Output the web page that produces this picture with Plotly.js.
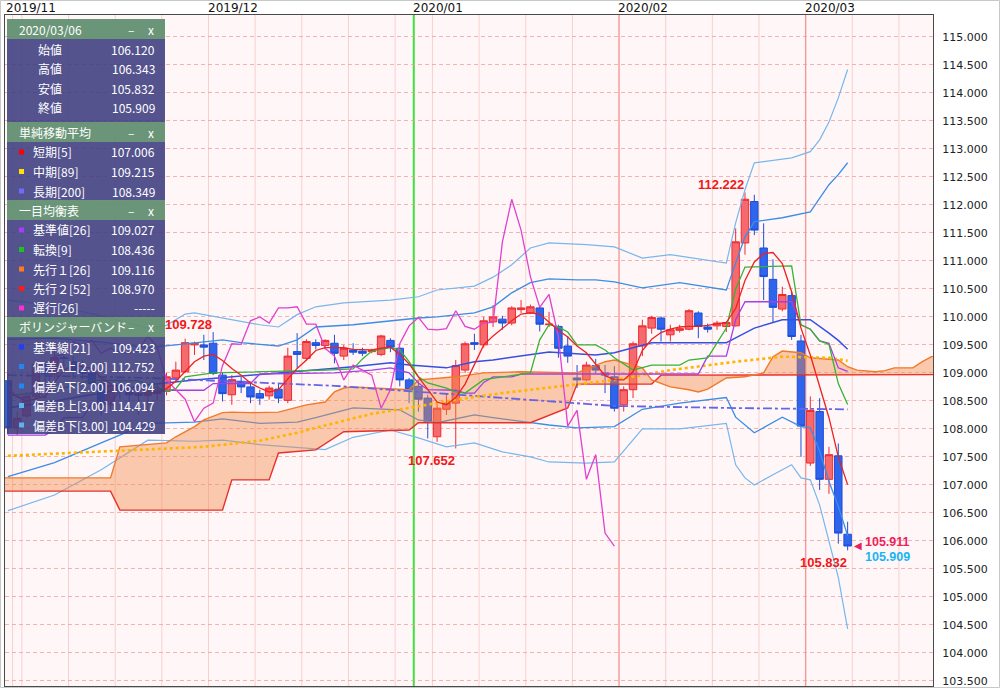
<!DOCTYPE html>
<html><head><meta charset="utf-8">
<script src="https://cdn.plot.ly/plotly-3.0.1.min.js"></script>
<style>html,body{margin:0;padding:0;background:#fff;}#chart{width:1000px;height:688px;}</style>
</head><body><div id="chart"></div>
<script>
// ---------------- data ----------------
const dates = ["2019/10/31","2019/11/01","2019/11/04","2019/11/05","2019/11/06","2019/11/07","2019/11/08","2019/11/11","2019/11/12","2019/11/13","2019/11/14","2019/11/15","2019/11/18","2019/11/19","2019/11/20","2019/11/21","2019/11/22","2019/11/25","2019/11/26","2019/11/27","2019/11/28","2019/11/29",
"2019/12/02","2019/12/03","2019/12/04","2019/12/05","2019/12/06","2019/12/09","2019/12/10","2019/12/11","2019/12/12","2019/12/13","2019/12/16","2019/12/17","2019/12/18","2019/12/19","2019/12/20","2019/12/23","2019/12/24","2019/12/25","2019/12/26","2019/12/27","2019/12/30","2019/12/31",
"2020/01/02","2020/01/03","2020/01/06","2020/01/07","2020/01/08","2020/01/09","2020/01/10","2020/01/13","2020/01/14","2020/01/15","2020/01/16","2020/01/17","2020/01/20","2020/01/21","2020/01/22","2020/01/23","2020/01/24","2020/01/27","2020/01/28","2020/01/29","2020/01/30","2020/01/31",
"2020/02/03","2020/02/04","2020/02/05","2020/02/06","2020/02/07","2020/02/10","2020/02/11","2020/02/12","2020/02/13","2020/02/14","2020/02/17","2020/02/18","2020/02/19","2020/02/20","2020/02/21","2020/02/24","2020/02/25","2020/02/26","2020/02/27","2020/02/28",
"2020/03/02","2020/03/03","2020/03/04","2020/03/05","2020/03/06"];
const openP = [108.86,108.02,108.23,108.58,109.15,108.98,109.27,109.20,109.05,108.99,108.81,108.43,108.78,108.67,108.61,108.60,108.63,108.67,108.91,109.02,109.50,109.50,
109.53,108.96,108.61,108.85,108.75,108.63,108.59,108.71,108.51,109.38,109.26,109.54,109.49,109.53,109.30,109.41,109.39,109.38,109.33,109.58,109.44,108.875,
108.76,108.55,107.86,108.35,108.46,109.05,109.54,109.50,109.91,109.96,109.89,110.13,110.07,110.16,109.86,109.83,109.48,108.91,108.875,109.13,109.00,108.93,
108.43,108.70,109.48,109.80,109.98,109.68,109.76,109.78,110.07,109.82,109.84,109.83,109.84,111.32,112.06,111.23,110.67,110.14,110.38,109.57,
107.39,108.31,107.10,107.52,106.120];
const highP = [109.00,108.31,108.65,109.24,109.20,109.49,109.48,109.30,109.22,109.06,108.87,108.83,108.86,108.79,108.70,108.74,108.80,109.00,109.20,109.61,109.56,109.68,
109.728,109.00,108.96,108.93,108.82,108.70,108.77,108.80,109.45,109.71,109.60,109.60,109.60,109.68,109.50,109.53,109.45,109.43,109.68,109.62,109.47,108.91,
108.85,108.61,108.46,108.61,109.23,109.56,109.70,110.00,110.21,110.02,110.19,110.30,110.22,110.18,110.09,109.86,109.66,109.14,109.20,109.25,109.14,109.12,
108.76,109.56,109.95,110.02,110.01,109.86,109.86,110.14,110.10,109.88,109.93,109.92,111.58,112.222,112.18,111.67,111.03,110.54,110.45,109.68,
108.58,108.55,107.68,107.74,106.343];
const lowP = [107.90,107.89,108.20,108.50,108.79,108.90,109.06,108.90,108.89,108.65,108.24,108.35,108.53,108.45,108.25,108.30,108.50,108.60,108.84,109.00,109.32,109.23,
108.96,108.49,108.43,108.64,108.46,108.43,108.52,108.46,108.46,109.09,109.22,109.42,109.42,109.17,109.23,109.32,109.30,109.35,109.30,109.37,108.76,108.46,
108.31,107.83,107.77,108.25,107.652,109.00,109.41,109.45,109.82,109.77,109.85,110.07,110.05,109.74,109.82,109.27,109.18,108.73,108.85,109.00,108.64,108.31,
108.31,108.55,109.30,109.70,109.56,109.56,109.72,109.76,109.62,109.72,109.77,109.73,109.83,111.11,111.46,110.30,109.89,110.10,109.59,107.50,
107.34,106.91,106.84,105.95,105.832];
const closeP = [108.02,108.19,108.58,109.15,108.98,109.27,109.26,109.05,108.99,108.81,108.43,108.78,108.67,108.61,108.60,108.63,108.67,108.93,109.05,109.54,109.53,109.46,
108.99,108.63,108.88,108.75,108.57,108.55,108.73,108.55,109.30,109.33,109.56,109.49,109.58,109.35,109.44,109.37,109.35,109.40,109.66,109.46,108.875,108.70,
108.53,108.13,108.37,108.46,109.13,109.52,109.51,109.93,110.00,109.89,110.16,110.16,110.18,109.87,109.87,109.44,109.30,108.875,109.14,109.05,108.96,108.37,
108.70,109.52,109.84,109.99,109.78,109.77,109.79,110.11,109.83,109.78,109.89,109.90,111.34,112.10,111.55,110.72,110.17,110.40,109.65,108.05,
108.33,107.10,107.54,106.14,105.909];

// bar index of the first date (bars counted from 2019/11/01 = 0)
const firstIndex = -1;

// SMA 5 (per bar)
const sma5 = [108.66,108.57,108.49,108.54,108.58,108.83,109.05,109.14,109.11,109.08,108.91,108.81,108.74,108.66,108.62,108.66,108.64,108.72,108.85,109.02,109.20,109.30,
109.33,109.22,109.08,108.96,108.82,108.73,108.66,108.70,108.90,109.08,109.23,109.40,109.45,109.45,109.45,109.42,109.41,109.41,109.44,109.46,109.33,109.16,
108.93,108.70,108.48,108.43,108.56,108.80,109.15,109.50,109.66,109.80,109.93,110.05,110.07,110.05,109.90,109.76,109.64,109.48,109.36,109.16,108.95,108.88,
108.875,109.02,109.40,109.60,109.72,109.78,109.82,109.83,109.83,109.85,109.88,109.90,110.15,110.65,110.98,111.13,111.15,110.95,110.45,109.80,
109.32,108.75,108.20,107.50,107.006];
// SMA 89 / SMA 200 (vertices)
const sma89Idx = [-1,9,20,26,30,32,38,42,47,52,57,64,70,77,82,87,89];
const sma89Val = [107.52,107.59,107.68,107.79,107.93,108.02,108.27,108.375,108.52,108.64,108.74,108.875,109.05,109.20,109.29,109.27,109.215];
const sma200Idx = [-1,14,34,43,54,64,76,89];
const sma200Val = [108.96,108.91,108.77,108.66,108.52,108.41,108.375,108.349];

// Ichimoku
const kijunIdx = [-1,3,4,5,7,8,10,11,20,21,25,26,34,38,40,42,43,44,47,48,49,50,51,53,54,73,74,76,77,78,83,84,85,86,87,88,89];
const kijunVal = [107.89,107.89,107.99,108.20,108.20,108.45,108.45,108.69,108.69,108.81,108.81,108.98,109.00,109.05,109.09,109.00,108.82,108.70,108.69,108.64,108.64,108.83,108.93,108.93,108.98,108.98,109.30,109.30,109.95,110.27,110.27,109.86,109.78,109.57,109.53,109.09,109.027];
const tenkanIdx = [-1,4,8,13,14,15,16,17,18,19,21,33,36,37,38,40,41,42,43,44,46,47,48,50,52,55,56,57,58,59,60,62,63,64,66,67,68,71,72,74,76,77,78,83,84,85,86,87,88,89];
const tenkanVal = [108.59,108.69,108.87,108.86,108.77,108.74,108.67,108.72,108.93,108.95,109.00,109.05,109.07,109.25,109.39,109.45,109.41,109.20,108.93,108.82,108.73,108.66,108.64,108.88,108.93,109.00,109.59,109.86,109.82,109.73,109.50,109.50,109.41,109.27,109.05,109.09,109.14,109.14,109.23,109.27,109.80,110.50,110.89,110.91,109.86,109.78,109.57,109.51,108.81,108.436];
const spanAIdx = [-2,10,11,16,17,19,20,22,23,25,28,29,31,33,34,35,36,42,43,47,50,54,60,63,64,66,67,68,70,72,73,74,76,78,80,81,82,84,85,88,89,90,92,93,94,96,97,98,100];
const spanAVal = [107.125,107.125,107.68,107.75,107.86,108.04,108.16,108.29,108.30,108.29,108.30,108.34,108.43,108.48,108.66,108.73,108.75,108.70,108.875,108.93,109.00,109.02,109.00,109.20,109.23,109.14,109.09,108.875,108.75,108.70,108.66,108.71,108.91,108.93,109.00,109.29,109.39,109.36,109.27,109.23,109.11,109.05,109.02,109.04,109.09,109.09,109.20,109.29,109.35];
const spanBIdx = [-2,10,11,22,23,27,28,32,35,42,43,55,59,60,68,69,100];
const spanBVal = [106.89,106.89,106.55,106.55,107.09,107.09,107.57,107.625,107.95,107.98,108.11,108.11,108.375,108.80,108.80,108.96,108.97];
const lagShift = 25;

// Bollinger bands
const bbMidIdx = [-1,4,9,14,19,25,32,36,40,42,46,49,51,57,62,64,68,71,76,77,79,82,85,87,88,89];
const bbMidVal = [108.375,108.50,108.64,108.79,108.875,108.96,109.05,109.11,109.18,109.14,109.09,109.20,109.23,109.375,109.32,109.36,109.54,109.54,109.54,109.625,109.80,109.95,109.95,109.71,109.58,109.423];
const bbU2Idx = [-1,4,9,14,17,19,22,24,28,30,32,36,40,43,45,49,51,53,55,57,60,62,64,67,71,76,77,78,79,82,85,87,88,89];
const bbU2Val = [109.60,109.62,109.55,109.45,109.50,109.54,109.59,109.54,109.48,109.59,109.82,109.86,109.93,109.98,110.00,110.07,110.18,110.43,110.61,110.68,110.66,110.66,110.625,110.52,110.61,110.48,110.96,111.43,111.70,111.77,111.875,112.36,112.54,112.752];
const bbL2Idx = [-1,4,9,14,19,22,26,30,32,36,41,42,43,45,49,51,55,57,60,64,67,71,76,77,79,81,82,84,85,86,87,88,89];
const bbL2Val = [107.15,107.40,107.75,108.10,108.12,108.18,108.10,108.12,108.20,108.375,108.34,108.25,108.16,108.11,108.25,108.20,108.11,108.07,108.02,108.04,108.35,108.46,108.56,108.21,107.93,108.125,108.21,108.04,108.02,107.60,107.06,106.62,106.094];
const bbU3Idx = [-1,4,9,14,16,18,19,22,26,28,30,32,35,40,43,45,49,51,53,55,57,61,64,67,70,76,77,78,79,83,85,86,87,88,89];
const bbU3Val = [110.30,110.20,110.02,109.80,109.85,110.05,110.07,109.98,109.86,109.82,110.04,110.18,110.25,110.30,110.36,110.48,110.55,110.71,110.93,111.23,111.32,111.29,111.25,111.05,111.11,110.96,111.68,112.27,112.75,112.84,112.95,113.16,113.48,113.91,114.417];
const bbL3Idx = [-1,4,9,14,19,22,26,33,36,40,43,46,49,52,55,57,61,64,67,71,76,77,78,79,81,83,84,85,86,87,88,89];
const bbL3Val = [106.54,106.82,107.27,107.80,107.78,107.80,107.72,107.63,107.85,107.98,107.84,107.68,107.75,107.59,107.50,107.41,107.39,107.41,108.00,108.00,108.10,107.36,107.125,107.00,107.18,107.36,107.125,107.09,106.64,106.00,105.35,104.429];

// info panel texts
const panelDate = "2020/03/06";
const ohlcLabels = ["始値","高値","安値","終値"];
const ohlcValues = ["106.120","106.343","105.832","105.909"];
const smaLabels = ["短期[5]","中期[89]","長期[200]"];
const smaValues = ["107.006","109.215","108.349"];
const ichiLabels = ["基準値[26]","転換[9]","先行１[26]","先行２[52]","遅行[26]"];
const ichiValues = ["109.027","108.436","109.116","108.970","-----"];
const bbLabels = ["基準線[21]","偏差A上[2.00]","偏差A下[2.00]","偏差B上[3.00]","偏差B下[3.00]"];
const bbValues = ["109.423","112.752","106.094","114.417","104.429"];
const sectionTitles = ["単純移動平均","一目均衡表","ボリンジャーバンド"];
const peakDates = ["2019/12/02","2020/02/20"];
const troughDates = ["2020/01/08","2020/03/06"];
const lastPrices = ["105.911","105.909"];
const highlightMonths = ["2020/02","2020/03"];

// ---------------- build ----------------
const xs = dates.map((d,k)=>k+firstIndex);
const lastX = xs[xs.length-1];
const XMIN = -1.31, XMAX = 98.15;
const ML=5, MR=67, MT=15, MB=2, PW=1000-ML-MR, PH=688-MT-MB;
const px = x => (x-ML)/PW, py = y => 1-(y-MT)/PH;

const C = {
  up:'#ee2a30', upFill:'#f66a6e', dn:'#1d4fd6', dnFill:'#2f64ec',
  sma5:'#ee2020', sma89:'#ffb400', sma200:'#6464e6',
  kijun:'#a43fe6', tenkan:'#35b335', spanA:'#f07a2a', spanB:'#e8302a', lag:'#e23fcf',
  bbMid:'#3550df', bb2:'#3b8de6', bb3:'#78b6ec', cloud:'rgba(242,135,70,0.42)'
};
const line = (x,y,color,width,dash,extra) => Object.assign({type:'scatter',mode:'lines',x,y,
  line:{color,width,dash:dash||'solid'},hoverinfo:'skip',showlegend:false},extra||{});

const traces = [
  {type:'candlestick',x:xs,open:openP,high:highP,low:lowP,close:closeP,
   increasing:{line:{color:C.up,width:1},fillcolor:C.upFill},
   decreasing:{line:{color:C.dn,width:1},fillcolor:C.dnFill},
   whiskerwidth:0,hoverinfo:'skip',showlegend:false},
  line(bbU3Idx,bbU3Val,C.bb3,1.2),
  line(bbL3Idx,bbL3Val,C.bb3,1.2),
  line(bbU2Idx,bbU2Val,C.bb2,1.3),
  line(bbL2Idx,bbL2Val,C.bb2,1.3),
  line(bbMidIdx,bbMidVal,C.bbMid,1.5),
  line(spanBIdx,spanBVal,C.spanB,1.4),
  line(spanAIdx,spanAVal,C.spanA,1.4,'solid',{fill:'tonexty',fillcolor:C.cloud}),
  line(sma200Idx,sma200Val,C.sma200,1.8,'dashdot'),
  line(sma89Idx,sma89Val,C.sma89,2.6,'dot'),
  line(kijunIdx,kijunVal,C.kijun,1.3),
  line(tenkanIdx,tenkanVal,C.tenkan,1.3),
  line(xs.slice(0,xs.length-lagShift),closeP.slice(lagShift),C.lag,1.3),
  line(xs,sma5,C.sma5,1.3)
];

// vertical grid lines: week starts (Mondays) and month starts
const shapes = [];
const dow = d => new Date(d.replace(/\//g,'-')+'T00:00:00Z').getUTCDay();
const weekLine = 'rgba(240,160,160,0.45)';
let lastMonday = null;
dates.forEach((d,k)=>{
  const x = xs[k]-0.5;
  const newMonth = k>0 && d.slice(0,7)!==dates[k-1].slice(0,7);
  let col = null, w = 1;
  if (newMonth && d.slice(0,4)!==dates[k-1].slice(0,4)) { col = '#3fe03f'; w = 2; }
  else if (newMonth && highlightMonths.includes(d.slice(0,7))) { col = 'rgba(240,120,120,0.75)'; w = 1.4; }
  else if (newMonth || dow(d)===1) { col = weekLine; }
  if (col) shapes.push({type:'line',xref:'x',yref:'paper',x0:x,x1:x,y0:0,y1:1,layer:'below',line:{color:col,width:w}});
  if (dow(d)===1) lastMonday = xs[k];
});
for (let m = lastMonday+5; m-0.5 < XMAX; m += 5) {
  shapes.push({type:'line',xref:'x',yref:'paper',x0:m-0.5,x1:m-0.5,y0:0,y1:1,layer:'below',
    line:{color:weekLine,width:1}});
}

// annotations
const ann = [];
let firstMonth = true;
dates.forEach((d,k)=>{
  if (k===0 || d.slice(0,7)===dates[k-1].slice(0,7)) return;
  const x = firstMonth ? XMIN : xs[k]-0.5;
  ann.push({xref:'x',yref:'paper',x,y:1,xanchor:'left',yanchor:'bottom',showarrow:false,
    text:d.slice(0,7),font:{family:'DejaVu Sans',size:12,color:'#111'},xshift:firstMonth?-1:-3,yshift:-2});
  firstMonth = false;
});
const lblFont = (c,s) => ({family:'Liberation Sans, Arial',size:s||13,color:c,weight:'bold'});
peakDates.forEach(d=>{const k=dates.indexOf(d);
  ann.push({xref:'x',yref:'y',x:xs[k],y:highP[k],xanchor:'right',yanchor:'bottom',showarrow:false,
    text:'<b>'+highP[k].toFixed(3)+'</b>',font:lblFont('#f01818'),xshift:1,yshift:-2});});
troughDates.forEach(d=>{const k=dates.indexOf(d);
  ann.push({xref:'x',yref:'y',x:xs[k],y:lowP[k],xanchor:'right',yanchor:'top',showarrow:false,
    text:'<b>'+lowP[k].toFixed(3)+'</b>',font:lblFont('#f01818'),xshift:1,yshift:-3});});
ann.push({xref:'x',yref:'y',x:lastX+1.1,y:parseFloat(lastPrices[0]),xanchor:'center',yanchor:'middle',showarrow:false,
  text:'◀',font:{family:'DejaVu Sans',size:10,color:'#e8205c'}});
ann.push({xref:'x',yref:'y',x:lastX+1.8,y:parseFloat(lastPrices[0]),xanchor:'left',yanchor:'bottom',showarrow:false,
  text:'<b>'+lastPrices[0]+'</b>',font:lblFont('#ee1f5a',12.5),yshift:-4,borderpad:0});
ann.push({xref:'x',yref:'y',x:lastX+1.8,y:parseFloat(lastPrices[1]),xanchor:'left',yanchor:'top',showarrow:false,
  text:'<b>'+lastPrices[1]+'</b>',font:lblFont('#18b4f4',12.5),yshift:-3,borderpad:0});

// info panel
const PX0=7, PX1=165;
const headFill='rgba(98,142,112,0.94)', bodyFill='rgba(60,60,128,0.88)';
const pFont = {family:'Noto Sans CJK JP',size:12,color:'#ffffff'};
function rect(y0,y1,fill){shapes.push({type:'rect',xref:'paper',yref:'paper',layer:'above',
  x0:px(PX0),x1:px(PX1),y0:py(y1),y1:py(y0),fillcolor:fill,line:{width:0}});}
function text(x,y,t,anchor){ann.push({xref:'paper',yref:'paper',x:px(x),y:py(y),xanchor:anchor||'left',
  yanchor:'middle',showarrow:false,text:t,font:pFont});}
function header(y0,title){rect(y0,y0+20,headFill);text(17,y0+10,title);text(131,y0+10,'–','center');text(151,y0+10,'x','center');}
function rows(y0,labels,values,colors,lx){
  labels.forEach((l,j)=>{const yc=y0+10+j*19.5;
    if(colors){shapes.push({type:'rect',xref:'paper',yref:'paper',layer:'above',
      x0:px(19),x1:px(24),y0:py(yc+2.5),y1:py(yc-2.5),fillcolor:colors[j],line:{width:0}});}
    text(lx,yc,l);text(157,yc,values[j],'right');});
}
header(19,panelDate);
rect(39,122,bodyFill);
rows(39,ohlcLabels,ohlcValues,null,36);
header(122,sectionTitles[0]);
rect(142,200,bodyFill);
rows(142,smaLabels,smaValues,['#ff0000','#ffe000','#6b6bff'],31);
header(200,sectionTitles[1]);
rect(220,317,bodyFill);
rows(220,ichiLabels,ichiValues,['#a23cff','#1fc21f','#ff7a1a','#ff1a1a','#ff2fd0'],31);
header(317,sectionTitles[2]);
rect(337,434,bodyFill);
rows(337,bbLabels,bbValues,['#1f3cff','#1e88f0','#1e88f0','#5fb2f0','#5fb2f0'],31);
shapes.push({type:'rect',xref:'paper',yref:'paper',layer:'above',x0:px(0.5),x1:px(999.5),y0:py(687.5),y1:py(0.5),
  line:{color:'#c8c8c8',width:1},fillcolor:'rgba(0,0,0,0)'});

const layout = {
  width:1000,height:688,margin:{l:ML,r:MR,t:MT,b:MB,pad:0},
  paper_bgcolor:'#ffffff',plot_bgcolor:'#fff7f7',showlegend:false,
  boxgap:0.2,boxgroupgap:0,
  xaxis:{range:[XMIN,XMAX],showgrid:false,zeroline:false,showticklabels:false,ticks:'',
    showline:true,mirror:true,linecolor:'#4a4a4a',linewidth:1,rangeslider:{visible:false},fixedrange:true},
  yaxis:{side:'right',range:[103.41,115.39],tick0:103.5,dtick:0.5,tickformat:'.3f',
    showgrid:true,gridcolor:'rgba(240,150,150,0.7)',griddash:'4px,3px',gridwidth:1,zeroline:false,
    ticks:'',ticklabelstandoff:6,tickfont:{family:'DejaVu Sans',size:11,color:'#222'},
    showline:true,mirror:true,linecolor:'#4a4a4a',linewidth:1,fixedrange:true},
  shapes,annotations:ann
};
Plotly.newPlot('chart',traces,layout,{displayModeBar:false,staticPlot:true});
</script></body></html>
